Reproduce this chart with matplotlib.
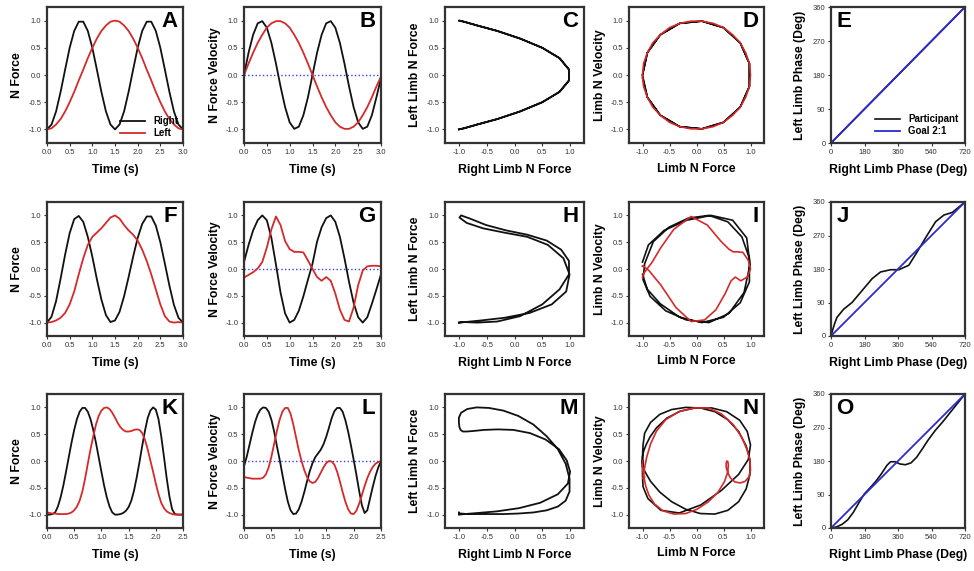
import numpy as np
import matplotlib
matplotlib.use("Agg")
import matplotlib.pyplot as plt

plt.rcParams['font.family'] = ['Liberation Sans', 'DejaVu Sans']

# ---- row 1 (A-E), sampled every 0.1 s ----
t1 = np.round(np.arange(0, 3.01, 0.1), 2)
a_right = [-1.00, -0.91, -0.67, -0.31, 0.10, 0.50, 0.81, 0.98, 0.98, 0.81, 0.50, 0.10, -0.31, -0.67, -0.91, -1.00,
           -0.91, -0.67, -0.31, 0.10, 0.50, 0.81, 0.98, 0.98, 0.81, 0.50, 0.10, -0.31, -0.67, -0.91, -1.00]
a_left = [-1.00, -0.98, -0.91, -0.81, -0.67, -0.50, -0.31, -0.10, 0.10, 0.31, 0.50, 0.67, 0.81, 0.91, 0.98, 1.00,
          0.98, 0.91, 0.81, 0.67, 0.50, 0.31, 0.10, -0.10, -0.31, -0.50, -0.67, -0.81, -0.91, -0.98, -1.00]
b_right = [0.00, 0.41, 0.74, 0.95, 0.99, 0.87, 0.59, 0.21, -0.21, -0.59, -0.87, -0.99, -0.95, -0.74, -0.41, 0.00,
           0.41, 0.74, 0.95, 0.99, 0.87, 0.59, 0.21, -0.21, -0.59, -0.87, -0.99, -0.95, -0.74, -0.41, -0.05]
b_left = [0.00, 0.21, 0.41, 0.59, 0.74, 0.87, 0.95, 0.99, 0.99, 0.95, 0.87, 0.74, 0.59, 0.41, 0.21, 0.00,
          -0.21, -0.41, -0.59, -0.74, -0.87, -0.95, -0.99, -0.99, -0.95, -0.87, -0.74, -0.59, -0.41, -0.21, -0.03]
e_right = [0, 90, 180, 270, 360, 450, 540, 630, 720]
e_left = [0, 45, 90, 135, 180, 225, 270, 315, 360]

# ---- row 2 (F-J), sampled every 0.1 s ----
t2 = t1
f_right = [-1.00, -0.89, -0.60, -0.18, 0.27, 0.67, 0.93, 0.99, 0.88, 0.60, 0.23, -0.19, -0.57, -0.86, -0.99, -0.96,
           -0.80, -0.51, -0.15, 0.23, 0.58, 0.84, 0.98, 0.98, 0.81, 0.50, 0.10, -0.31, -0.67, -0.91, -1.00]
f_left = [-1.00, -0.99, -0.96, -0.91, -0.82, -0.66, -0.42, -0.10, 0.20, 0.45, 0.60, 0.68, 0.76, 0.86, 0.96, 1.00,
          0.94, 0.82, 0.72, 0.64, 0.53, 0.36, 0.15, -0.10, -0.38, -0.66, -0.88, -0.98, -1.00, -0.99, -1.00]
g_right = [0.13, 0.45, 0.72, 0.91, 1.00, 0.91, 0.58, 0.08, -0.44, -0.83, -1.00, -0.95, -0.78, -0.51, -0.20, 0.10,
           0.51, 0.78, 0.95, 1.00, 0.88, 0.60, 0.20, -0.24, -0.63, -0.90, -1.00, -0.90, -0.65, -0.38, -0.10]
g_left = [-0.16, -0.11, -0.06, 0.01, 0.13, 0.40, 0.74, 0.98, 0.82, 0.52, 0.37, 0.32, 0.32, 0.31, 0.16, 0.00,
          -0.15, -0.22, -0.15, -0.22, -0.46, -0.76, -0.95, -0.98, -0.72, -0.30, -0.03, 0.05, 0.06, 0.06, 0.05]
j_right = [0, 10, 20, 32, 68, 113, 167, 221, 266, 320, 364, 418, 463, 517, 562, 607, 652, 720]
j_left = [0, 18, 34, 50, 72, 90, 122, 154, 172, 178, 178, 190, 226, 271, 307, 325, 332, 360]

# ---- row 3 (K-O), sampled every 0.05 s ----
t3 = np.round(np.arange(0, 2.501, 0.05), 2)
k_right = [-1.00, -1.00, -0.99, -0.96, -0.85, -0.68, -0.46, -0.20, 0.07, 0.34, 0.58, 0.78, 0.92, 0.99, 0.99, 0.92,
           0.78, 0.58, 0.34, 0.07, -0.20, -0.46, -0.68, -0.85, -0.96, -1.00, -1.00, -0.99, -0.97, -0.93, -0.86,
           -0.74, -0.55, -0.30, -0.02, 0.28, 0.56, 0.80, 0.94, 1.00, 0.96, 0.78, 0.46, 0.08, -0.32, -0.66, -0.90,
           -0.99, -1.00, -1.00, -1.00]
k_left = [-0.96, -0.97, -0.98, -0.98, -0.99, -0.99, -0.99, -0.99, -0.98, -0.96, -0.92, -0.85, -0.74, -0.57, -0.33,
          -0.05, 0.22, 0.46, 0.68, 0.84, 0.94, 0.99, 1.00, 0.97, 0.90, 0.81, 0.71, 0.63, 0.58, 0.55, 0.55, 0.56,
          0.58, 0.59, 0.58, 0.52, 0.40, 0.22, 0.01, -0.20, -0.42, -0.62, -0.78, -0.88, -0.94, -0.97, -0.99, -1.00,
          -1.00, -1.00, -1.00]
l_right = [-0.10, 0.08, 0.30, 0.52, 0.72, 0.87, 0.96, 1.00, 0.99, 0.92, 0.77, 0.55, 0.28, 0.03, -0.25, -0.52,
           -0.76, -0.92, -0.99, -0.98, -0.90, -0.76, -0.58, -0.38, -0.19, -0.04, 0.07, 0.14, 0.21, 0.31, 0.45,
           0.62, 0.80, 0.93, 0.99, 0.99, 0.92, 0.76, 0.55, 0.30, 0.03, -0.25, -0.55, -0.82, -0.97, -0.92, -0.70,
           -0.48, -0.28, -0.12, 0.00]
l_left = [-0.30, -0.31, -0.32, -0.33, -0.33, -0.33, -0.33, -0.31, -0.25, -0.12, 0.08, 0.32, 0.56, 0.77, 0.92,
          0.99, 0.99, 0.88, 0.68, 0.44, 0.20, 0.00, -0.17, -0.30, -0.38, -0.41, -0.39, -0.32, -0.22, -0.12, -0.04,
          0.00, -0.01, -0.07, -0.20, -0.38, -0.58, -0.76, -0.90, -0.98, -0.99, -0.93, -0.80, -0.64, -0.47, -0.32,
          -0.20, -0.11, -0.05, -0.02, 0.00]
o_right = [0, 30, 60, 90, 120, 150, 180, 210, 240, 270, 300, 320, 345, 370, 400, 430, 460, 490, 520, 560, 600,
           640, 680, 720]
o_left = [0, 3, 10, 22, 42, 68, 92, 108, 125, 145, 168, 178, 178, 172, 170, 175, 190, 212, 235, 262, 285, 310,
          335, 360]

goal_x = [0, 720]
goal_y = [0, 360]

BLACK = "#111111"
RED = "#d42a2a"
BLUE = "#2b2bd0"
LABEL = 8.8

cols = [(47, 183), (244, 381), (445, 584), (629, 764), (831, 965)]
rows = [(7, 143), (202, 336), (394, 528)]

fig = plt.figure(figsize=(9.74, 5.71), dpi=100)


def make_ax(r, c):
    x0, x1 = cols[c]
    y0, y1 = rows[r]
    ax = fig.add_axes([x0 / 974, 1 - y1 / 571, (x1 - x0) / 974, (y1 - y0) / 571])
    for s in ax.spines.values():
        s.set_linewidth(1.6)
        s.set_color("#333333")
    ax.tick_params(labelsize=5.5, length=2, width=0.8, pad=2, colors="#333333")
    return ax


def letter(ax, txt, left=False):
    if left:
        ax.text(0.04, 0.97, txt, transform=ax.transAxes, ha="left", va="top",
                fontsize=16, fontweight="bold")
    else:
        ax.text(0.96, 0.97, txt, transform=ax.transAxes, ha="right", va="top",
                fontsize=16, fontweight="bold")


def unit_ticks(ax, axis="y"):
    vals = [-1.0, -0.5, 0.0, 0.5, 1.0]
    if axis == "y":
        ax.set_ylim(-1.25, 1.25)
        ax.set_yticks(vals)
        ax.set_yticklabels(["%.1f" % v for v in vals])
    else:
        ax.set_xlim(-1.25, 1.25)
        ax.set_xticks(vals)
        ax.set_xticklabels(["%.1f" % v for v in vals])


def force_panel(r, t, right, left, name, tmax, legend=False):
    ax = make_ax(r, 0)
    ax.plot(t, right, c=BLACK, lw=1.3, label="Right")
    ax.plot(t, left, c=RED, lw=1.3, label="Left")
    ax.set_xlim(0, tmax)
    xt = np.arange(0, tmax + 0.01, 0.5)
    ax.set_xticks(xt)
    ax.set_xticklabels(["%.1f" % v for v in xt])
    unit_ticks(ax)
    ax.set_ylabel("N Force", fontsize=LABEL, fontweight="bold", labelpad=4)
    ax.set_xlabel("Time (s)", fontsize=LABEL, fontweight="bold", labelpad=6)
    letter(ax, name)
    if legend:
        ax.legend(loc="lower right", frameon=False, handlelength=2.6,
                  borderaxespad=0.1, labelspacing=0.2, prop={"weight": "bold", "size": 7})


def vel_panel(r, t, right, left, name, tmax):
    ax = make_ax(r, 1)
    ax.axhline(0, color="#3b3bff", ls=":", lw=1.0)
    ax.plot(t, right, c=BLACK, lw=1.3)
    ax.plot(t, left, c=RED, lw=1.3)
    ax.set_xlim(0, tmax)
    xt = np.arange(0, tmax + 0.01, 0.5)
    ax.set_xticks(xt)
    ax.set_xticklabels(["%.1f" % v for v in xt])
    unit_ticks(ax)
    ax.set_ylabel("N Force Velocity", fontsize=LABEL, fontweight="bold", labelpad=3)
    ax.set_xlabel("Time (s)", fontsize=LABEL, fontweight="bold", labelpad=6)
    letter(ax, name)


def cross_panel(r, right, left, name):
    ax = make_ax(r, 2)
    ax.plot(right, left, c=BLACK, lw=1.3)
    unit_ticks(ax, "x")
    unit_ticks(ax, "y")
    ax.set_ylabel("Left Limb N Force", fontsize=LABEL, fontweight="bold", labelpad=4)
    ax.set_xlabel("Right Limb N Force", fontsize=LABEL, fontweight="bold", labelpad=6)
    letter(ax, name)


def circle_panel(r, fr, vr, fl, vl, name):
    ax = make_ax(r, 3)
    ax.plot(fr, vr, c=BLACK, lw=1.2)
    ax.plot(fl, vl, c=RED, lw=1.2)
    unit_ticks(ax, "x")
    unit_ticks(ax, "y")
    ax.set_ylabel("Limb N Velocity", fontsize=LABEL, fontweight="bold", labelpad=3)
    ax.set_xlabel("Limb N Force", fontsize=LABEL, fontweight="bold", labelpad=5)
    letter(ax, name)


def phase_panel(r, px, py, name, legend=False):
    ax = make_ax(r, 4)
    ax.plot(px, py, c=BLACK, lw=1.2, label="Participant")
    ax.plot(goal_x, goal_y, c=BLUE, lw=1.3, label="Goal 2:1")
    ax.set_xlim(0, 720)
    ax.set_ylim(0, 360)
    ax.set_xticks([0, 180, 360, 540, 720])
    ax.set_yticks([0, 90, 180, 270, 360])
    ax.set_ylabel("Left Limb Phase (Deg)", fontsize=LABEL, fontweight="bold", labelpad=5)
    ax.set_xlabel("Right Limb Phase (Deg)", fontsize=LABEL, fontweight="bold", labelpad=6)
    letter(ax, name, left=True)
    if legend:
        ax.legend(loc="lower right", frameon=False, handlelength=2.6,
                  borderaxespad=0.3, labelspacing=0.2, prop={"weight": "bold", "size": 7})


force_panel(0, t1, a_right, a_left, "A", 3.0, legend=True)
vel_panel(0, t1, b_right, b_left, "B", 3.0)
cross_panel(0, a_right, a_left, "C")
circle_panel(0, a_right, b_right, a_left, b_left, "D")
phase_panel(0, e_right, e_left, "E", legend=True)

force_panel(1, t2, f_right, f_left, "F", 3.0)
vel_panel(1, t2, g_right, g_left, "G", 3.0)
cross_panel(1, f_right, f_left, "H")
circle_panel(1, f_right, g_right, f_left, g_left, "I")
phase_panel(1, j_right, j_left, "J")

force_panel(2, t3, k_right, k_left, "K", 2.5)
vel_panel(2, t3, l_right, l_left, "L", 2.5)
cross_panel(2, k_right, k_left, "M")
circle_panel(2, k_right, l_right, k_left, l_left, "N")
phase_panel(2, o_right, o_left, "O")

fig.savefig("out.png", dpi=100)
